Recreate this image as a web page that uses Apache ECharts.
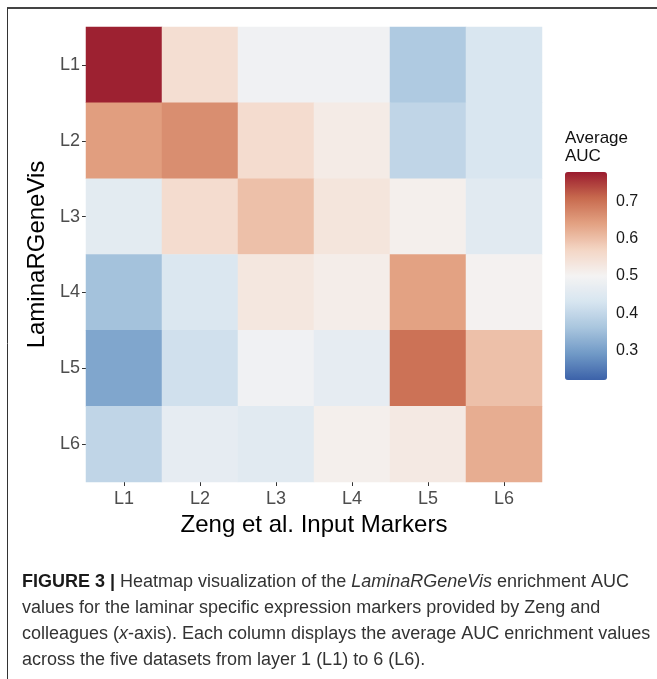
<!DOCTYPE html>
<html>
<head>
<meta charset="utf-8">
<script src="https://cdn.jsdelivr.net/npm/echarts@6/dist/echarts.min.js"></script>
<style>
html,body{margin:0;padding:0;background:#fff;}
#chart{width:657px;height:679px;}
</style>
</head>
<body>
<div id="chart"></div>
<script>
// ---- data ----
var xCategories = ["L1", "L2", "L3", "L4", "L5", "L6"];
var yCategories = ["L1", "L2", "L3", "L4", "L5", "L6"];
// rows = LaminaRGeneVis layer (y), columns = Zeng et al. input markers (x)
var rowL1 = [0.775, 0.55, 0.49, 0.49, 0.37, 0.435];
var rowL2 = [0.645, 0.665, 0.555, 0.52, 0.395, 0.435];
var rowL3 = [0.46, 0.555, 0.60, 0.535, 0.51, 0.455];
var rowL4 = [0.355, 0.44, 0.53, 0.515, 0.64, 0.505];
var rowL5 = [0.31, 0.42, 0.49, 0.465, 0.70, 0.60];
var rowL6 = [0.395, 0.465, 0.455, 0.51, 0.525, 0.625];
var legendTicks = [0.3, 0.4, 0.5, 0.6, 0.7];
var colorMin = 0.22, colorMax = 0.78;
var xTitle = "Zeng et al. Input Markers";
var yTitle = "LaminaRGeneVis";
var legendTitle = "Average\nAUC";

var rows = [rowL1, rowL2, rowL3, rowL4, rowL5, rowL6];
var heatData = [];
rows.forEach(function (row, yi) {
  row.forEach(function (v, xi) { heatData.push([xi, yi, v]); });
});

var palette = ["#3C62A9", "#7099C6", "#A8C5DE", "#D7E5F0", "#F4F3F3",
               "#F4D6C5", "#E3A283", "#C86A4E", "#9A1B2F"];

var chart = echarts.init(document.getElementById('chart'), null, {renderer: 'canvas'});
var FONT = "'Liberation Sans', Arial, Helvetica, sans-serif";
var CAP = 18;

var option = {
  backgroundColor: '#ffffff',
  animation: false,
  textStyle: {fontFamily: FONT},
  grid: [
    {left: 86, top: 27, width: 456, height: 455},
    {left: 565, top: 172, width: 42, height: 208}
  ],
  xAxis: [
    {
      type: 'category', data: xCategories, gridIndex: 0, position: 'bottom',
      axisLine: {show: false},
      axisTick: {show: true, alignWithLabel: true, length: 4, lineStyle: {color: '#333', width: 1}},
      axisLabel: {color: '#4D4D4D', fontSize: 18, margin: 8, fontFamily: FONT},
      splitLine: {show: false},
      name: xTitle, nameLocation: 'middle', nameGap: 28,
      nameTextStyle: {color: '#000', fontSize: 24, fontFamily: FONT}
    },
    {type: 'value', gridIndex: 1, show: false, min: 0, max: 1}
  ],
  yAxis: [
    {
      type: 'category', data: yCategories, gridIndex: 0, inverse: true,
      axisLine: {show: false},
      axisTick: {show: true, alignWithLabel: true, length: 4, lineStyle: {color: '#333', width: 1}},
      axisLabel: {color: '#4D4D4D', fontSize: 18, margin: 6, fontFamily: FONT},
      splitLine: {show: false},
      name: yTitle, nameLocation: 'middle', nameGap: 34, nameRotate: 90,
      nameTextStyle: {color: '#000', fontSize: 24, fontFamily: FONT}
    },
    {
      type: 'value', gridIndex: 1, position: 'left', min: colorMin, max: colorMax,
      axisLine: {show: false},
      axisTick: {show: true, inside: true, length: 8, customValues: legendTicks,
                 lineStyle: {color: 'rgba(255,255,255,0.75)', width: 1}},
      axisLabel: {show: false},
      splitLine: {show: false}
    },
    {
      type: 'value', gridIndex: 1, position: 'right', min: colorMin, max: colorMax,
      axisLine: {show: false},
      axisTick: {show: true, inside: true, length: 8, customValues: legendTicks,
                 lineStyle: {color: 'rgba(255,255,255,0.75)', width: 1}},
      axisLabel: {show: true, customValues: legendTicks, color: '#1a1a1a', fontSize: 16, margin: 9,
                  fontFamily: FONT, formatter: function (v) { return v.toFixed(1); }},
      splitLine: {show: false}
    }
  ],
  visualMap: {
    type: 'continuous', min: colorMin, max: colorMax, seriesIndex: 0,
    left: 565, top: 172, itemWidth: 42, itemHeight: 208, padding: 0,
    calculable: false, realtime: false, hoverLink: false,
    inRange: {color: palette},
    text: null, showLabel: false,
    textStyle: {color: 'transparent'}
  },
  series: [
    {
      type: 'heatmap', xAxisIndex: 0, yAxisIndex: 0, data: heatData,
      itemStyle: {borderWidth: 0},
      emphasis: {disabled: true}
    }
  ],
  graphic: [
    {type: 'line', shape: {x1: 7, y1: 8, x2: 657, y2: 8}, style: {stroke: '#444', lineWidth: 2}, silent: true},
    {type: 'line', shape: {x1: 7.5, y1: 8, x2: 7.5, y2: 679}, style: {stroke: '#333', lineWidth: 1}, silent: true},
    {type: 'text', left: 565, top: 129, silent: true,
     style: {text: legendTitle, fill: '#111', fontSize: 17, fontFamily: FONT, lineHeight: 18}},
    {type: 'text', left: 22, top: 573, silent: true,
     style: {text: '{b|FIGURE 3 |} Heatmap visualization of the {i|LaminaRGeneVis} enrichment AUC',
             fill: '#333', fontSize: CAP, fontFamily: FONT,
             rich: {b: {fontWeight: 'bold', fill: '#1a1a1a', fontSize: CAP, fontFamily: FONT},
                    i: {fontStyle: 'italic', fill: '#333', fontSize: CAP, fontFamily: FONT}}}},
    {type: 'text', left: 22, top: 599, silent: true,
     style: {text: 'values for the laminar specific expression markers provided by Zeng and',
             fill: '#333', fontSize: CAP, fontFamily: FONT}},
    {type: 'text', left: 22, top: 625, silent: true,
     style: {text: 'colleagues ({i|x}-axis). Each column displays the average AUC enrichment values',
             fill: '#333', fontSize: CAP, fontFamily: FONT,
             rich: {i: {fontStyle: 'italic', fill: '#333', fontSize: CAP, fontFamily: FONT}}}},
    {type: 'text', left: 22, top: 651, silent: true,
     style: {text: 'across the five datasets from layer 1 (L1) to 6 (L6).',
             fill: '#333', fontSize: CAP, fontFamily: FONT}}
  ]
};
chart.setOption(option);
</script>
</body>
</html>
